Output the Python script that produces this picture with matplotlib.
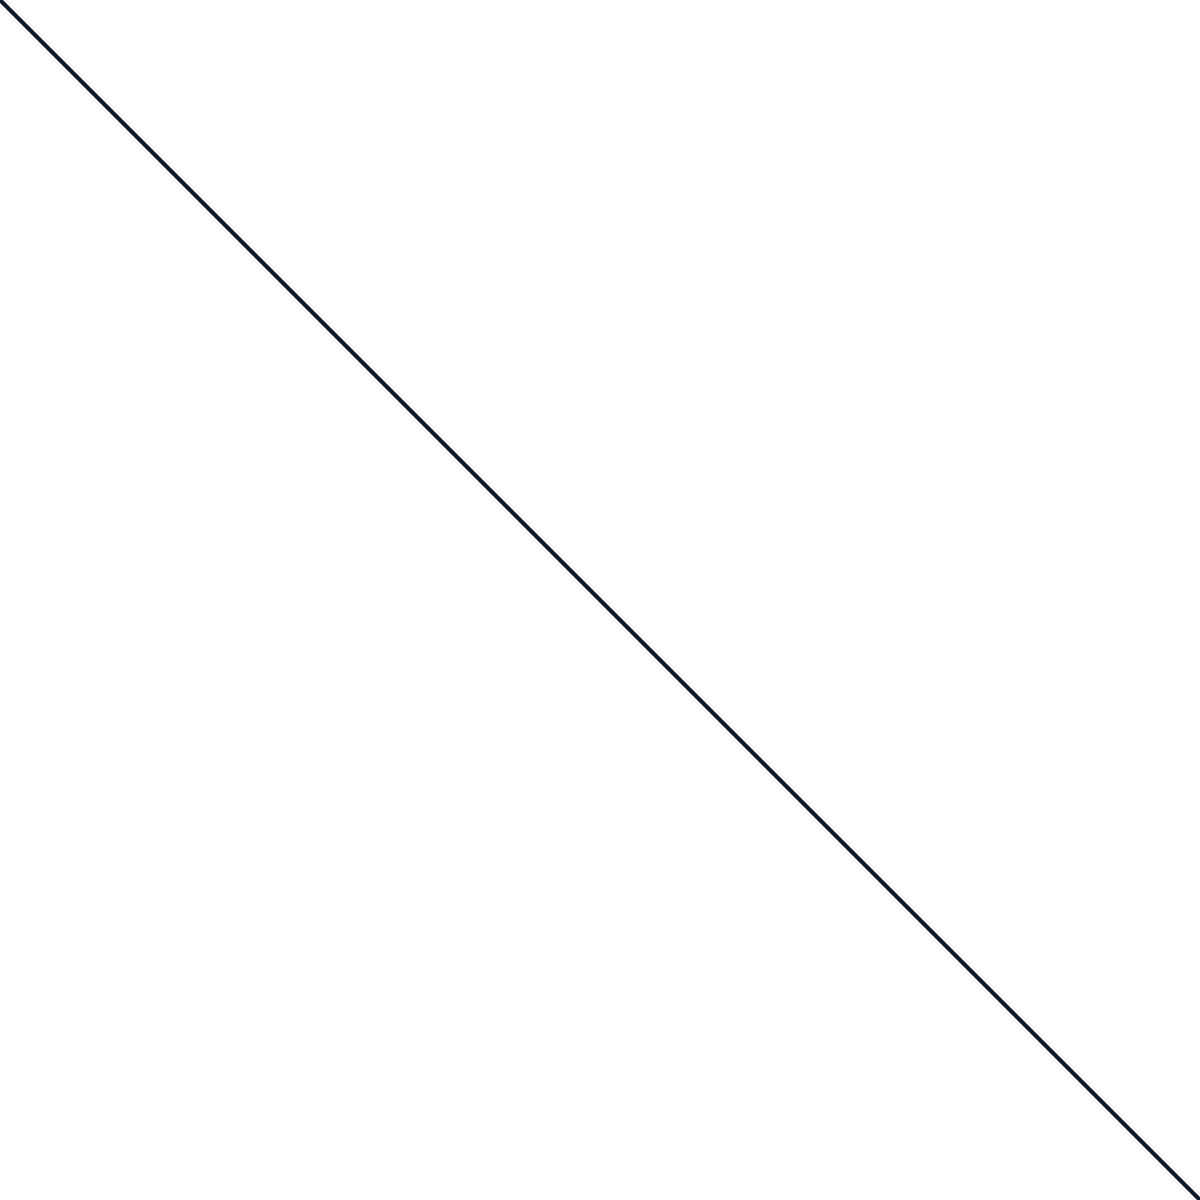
import matplotlib
matplotlib.use("Agg")
import matplotlib.pyplot as plt

# values: one straight falling line, corner to corner
x_values = [0, 25, 50, 75, 100]
y_values = [100, 75, 50, 25, 0]
line_color = '#111a2e'

fig = plt.figure(figsize=(12, 12), dpi=100)
ax = fig.add_axes([0, 0, 1, 1])
ax.plot(x_values, y_values, color=line_color, linewidth=3.0, solid_capstyle='butt')
ax.set_xlim(0, 100)
ax.set_ylim(0, 100)
ax.axis('off')

fig.savefig('out.png', dpi=100, facecolor='white')
